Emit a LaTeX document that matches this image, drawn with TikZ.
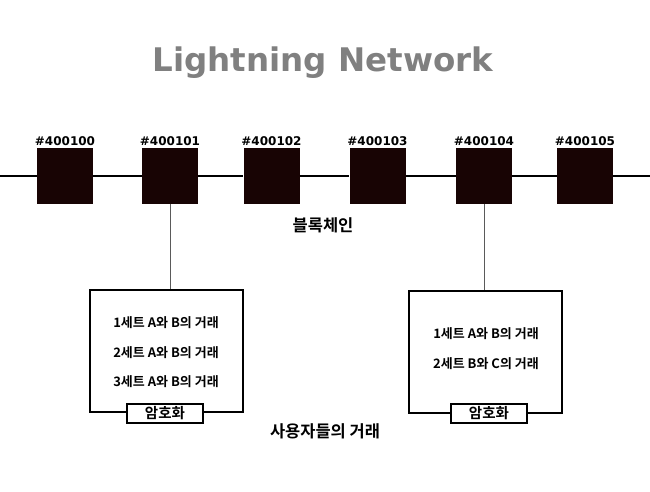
\documentclass[tikz,border=0pt]{standalone}
\usepackage{fontspec}
\setmainfont{Noto Sans CJK KR}[BoldFont={Noto Sans CJK KR Bold}]
\newfontfamily\latinbold{DejaVu Sans}
\usepackage{xcolor}
\definecolor{lnblock}{RGB}{24,4,4}
\definecolor{lngray}{RGB}{128,128,128}
\definecolor{lnwire}{RGB}{90,90,90}
\usepackage{tikz}
\usetikzlibrary{positioning, calc}

\tikzset{
  blocknode/.style={fill=lnblock, minimum size=56pt, inner sep=0pt},
  blocklabel/.style={font=\latinbold\bfseries\fontsize{12}{14}\selectfont, inner sep=1pt},
  txbox/.style={draw=black, line width=2pt, minimum width=153pt, minimum height=122pt, inner sep=0pt},
  txline/.style={font=\bfseries\fontsize{13}{15}\selectfont, inner sep=0pt},
  enclabel/.style={draw=black, line width=2pt, fill=white, minimum width=76pt, minimum height=19pt, inner sep=0pt, font=\bfseries\fontsize{14.5}{16}\selectfont},
  caption/.style={font=\bfseries\fontsize{16.5}{18}\selectfont, inner sep=0pt}
}

\begin{document}
\begin{tikzpicture}[x=1pt, y=-1pt]
      \useasboundingbox (0,0) rectangle (650,492);
      % Title
      \node[font=\latinbold\bfseries\fontsize{32.5}{38}\selectfont, lngray] (title) at (323,63) {Lightning Network};
      % Blocks
      \node[blocknode] (b0) at (65,176) {};
      \node[blocknode] (b1) at (170,176) {};
      \node[blocknode] (b2) at (271.5,176) {};
      \node[blocknode] (b3) at (377.5,176) {};
      \node[blocknode] (b4) at (484,176) {};
      \node[blocknode] (b5) at (585,176) {};
      \node[blocklabel, above=1pt of b0] (l0) {\#400100};
      \node[blocklabel, above=1pt of b1] (l1) {\#400101};
      \node[blocklabel, above=1pt of b2] (l2) {\#400102};
      \node[blocklabel, above=1pt of b3] (l3) {\#400103};
      \node[blocklabel, above=1pt of b4] (l4) {\#400104};
      \node[blocklabel, above=1pt of b5] (l5) {\#400105};
      % Chain
      \coordinate (chainL) at (0,176);
      \coordinate (chainR) at (650,176);
      \draw[line width=1.5pt] (chainL) -- (b0) -- (b1) -- (b2) -- (b3) -- (b4) -- (b5) -- (chainR);
      \node[caption] (chain) at (323,225) {블록체인};
      % Transactions, left
      \node[txbox] (box1) at (166.5,351) {};
      \draw[lnwire, line width=0.8pt] (b1.south) -- (b1.south |- box1.north);
      \node[txline] (t11) at (166,323) {1세트 A와 B의 거래};
      \node[txline] (t12) at (166,353) {2세트 A와 B의 거래};
      \node[txline] (t13) at (166,382) {3세트 A와 B의 거래};
      \node[enclabel] (enc1) at (165,413) {암호화};
      % Transactions, right
      \node[txbox] (box2) at (485.5,351.5) {};
      \draw[lnwire, line width=0.8pt] (b4.south) -- (b4.south |- box2.north);
      \node[txline] (t21) at (486,334) {1세트 A와 B의 거래};
      \node[txline] (t22) at (486,364) {2세트 B와 C의 거래};
      \node[enclabel] (enc2) at (489,413) {암호화};
      % Users
      \node[caption] (users) at (325,431) {사용자들의 거래};
    \end{tikzpicture}
\end{document}
